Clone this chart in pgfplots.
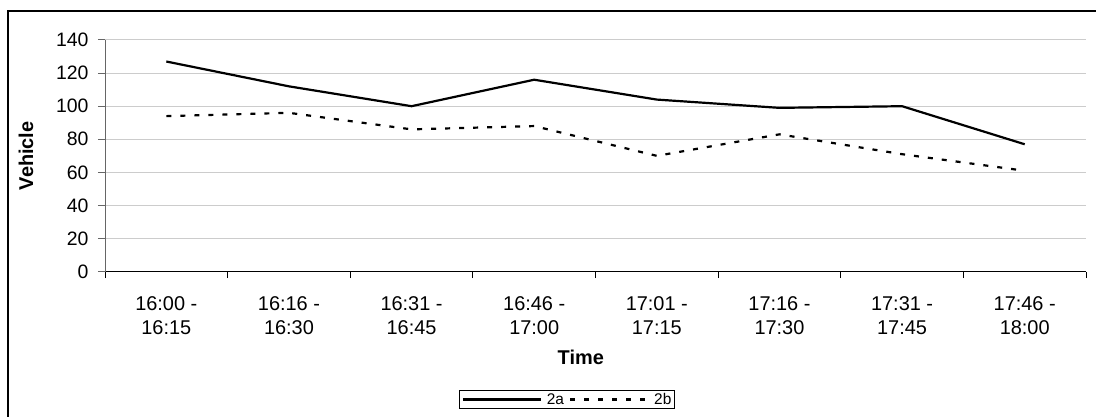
\documentclass[border=0pt]{standalone}
\usepackage{fontspec}
\setmainfont{Liberation Sans}
\usepackage{pgfplots}
\pgfplotsset{compat=1.18}
\begin{document}
\begin{tikzpicture}[x=1bp,y=1bp]
\path[use as bounding box] (0,0) rectangle (1096,416);
\draw[line width=1.2bp, black] (8,-5) -- (8,405) -- (1100,405);
\begin{axis}[
  at={(105bp,144.3bp)}, anchor=south west,
  scale only axis, width=981bp, height=231.7bp,
  xmin=-0.5, xmax=7.5, ymin=0, ymax=140,
  axis lines*=left,
  x axis line style={black, line width=1bp},
  y axis line style={gray!80!black, line width=1bp},
  ytick={0,20,...,140},
  ymajorgrids,
  grid style={gray!40, line width=1bp},
  xtick={0,...,7},
  xticklabels={{16:00 -\\16:15},{16:16 -\\16:30},{16:31 -\\16:45},{16:46 -\\17:00},{17:01 -\\17:15},{17:16 -\\17:30},{17:31 -\\17:45},{17:46 -\\18:00}},
  x tick label style={align=center, font=\fontsize{20}{24}\selectfont, yshift=-14bp},
  y tick label style={font=\fontsize{19.5}{22}\selectfont, xshift=-6bp},
  /pgf/number format/assume math mode=true,
  tick align=outside,
  xtick style={draw=none},
  ytick style={gray!80!black, line width=1bp},
  major tick length=7bp,
  extra x ticks={-0.5,0.5,...,7.5},
  extra x tick labels={},
  extra x tick style={xtick style={draw=black, line width=1bp}, major tick length=6.5bp},
  xlabel={\textbf{Time}},
  xlabel style={at={(axis description cs:0.485,-0.322)}, anchor=north, font=\fontsize{20}{24}\selectfont},
  ylabel={\textbf{Vehicle}},
  ylabel style={at={(axis description cs:-0.0805,0.5)}, anchor=center, font=\fontsize{20}{24}\selectfont},
  legend columns=2,
  legend style={at={(axis description cs:0.471,-0.5516)}, anchor=center, draw=black, line width=0.8bp, inner sep=2bp, font=\fontsize{15.5}{18}\selectfont, column sep=4bp, nodes={inner sep=1bp}},
  legend image code/.code={\draw[#1] (0bp,0bp) -- (78bp,0bp);},
]
\addplot[black, line width=2.2bp] coordinates {(0,127) (1,112) (2,100) (3,116) (4,104) (5,99) (6,100) (7,77)};
\addlegendentry{2a}
\addplot[black, line width=2.2bp, dash pattern=on 5bp off 9bp] coordinates {(0,94) (1,96) (2,86) (3,88) (4,70) (5,83) (6,71) (7,61)};
\addlegendentry{2b}
\end{axis}
\end{tikzpicture}
\end{document}
